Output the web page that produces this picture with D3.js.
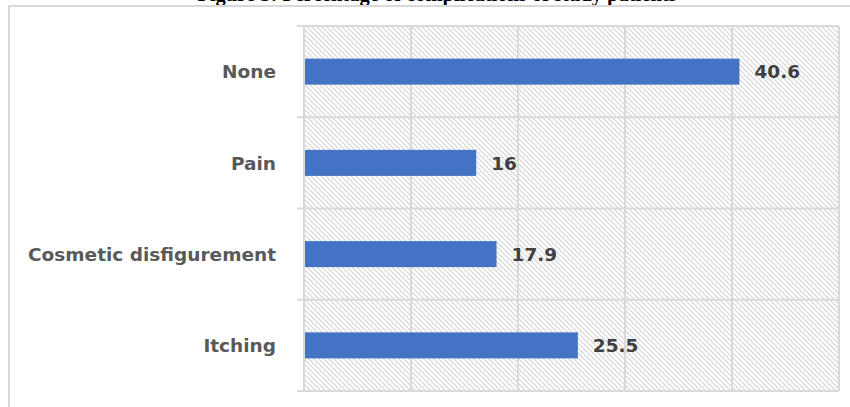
<!DOCTYPE html>
<html>
<head>
<meta charset="utf-8">
<script src="https://cdn.jsdelivr.net/npm/d3@7"></script>
<style>
  body { margin: 0; background: #fff; overflow: hidden; }
  .cat { font-family: "DejaVu Sans", sans-serif; font-weight: bold; font-size: 18.5px; fill: #595959; }
  .val { font-family: "DejaVu Sans", sans-serif; font-weight: bold; font-size: 18.5px; fill: #404040; }
  .title { font-family: "Liberation Serif", "Times New Roman", serif; font-weight: bold; font-size: 20.5px; fill: #000; }
</style>
</head>
<body>
<div id="chart"></div>
<script>
//Data
const categories = ["None", "Pain", "Cosmetic disfigurement", "Itching"];
const values = [40.6, 16, 17.9, 25.5];
const xTicks = [0, 10, 20, 30, 40, 50];
const title = "Figure 3: Percentage of complications of study patients";

//Layout
let width = 850, height = 407;
let plot = {left: 304, right: 839, top: 26, bottom: 391};

let svg = d3.select("#chart").append("svg")
  .attr("width", width)
  .attr("height", height);

//Hatch pattern for the plot background
let defs = svg.append("defs");
let pat = defs.append("pattern")
  .attr("id", "hatch")
  .attr("patternUnits", "userSpaceOnUse")
  .attr("width", 5).attr("height", 5);
pat.append("path")
  .attr("d", "M-1,-1 L6,6 M-1,4 L1,6 M4,-1 L6,1")
  .attr("stroke", "#d2d2d2")
  .attr("stroke-width", 1.1);

//Title (cut off at the top of the picture, as in the source)
svg.append("text")
  .attr("class", "title")
  .attr("x", 437).attr("y", 0.5)
  .attr("text-anchor", "middle")
  .text(title);

//Outer chart border
svg.append("path")
  .attr("d", "M9," + height + " L9,6 L" + width + ",6")
  .attr("fill", "none")
  .attr("stroke", "#d9d9d9")
  .attr("stroke-width", 2);

let x = d3.scaleLinear().domain([0, 50]).range([plot.left, plot.right]);
let y = d3.scaleBand().domain(categories).range([plot.top, plot.bottom])
  .paddingInner(0.715).paddingOuter(0.3575);
let yStep = d3.scaleBand().domain(categories).range([plot.top, plot.bottom]);

svg.append("rect")
  .attr("x", plot.left).attr("y", plot.top)
  .attr("width", plot.right - plot.left)
  .attr("height", plot.bottom - plot.top)
  .attr("fill", "url(#hatch)");

//Vertical gridlines
svg.selectAll(".grid")
  .data(xTicks)
  .enter().append("line")
    .attr("class", "grid")
    .attr("x1", d => x(d)).attr("x2", d => x(d))
    .attr("y1", plot.top).attr("y2", plot.bottom)
    .attr("stroke", "#d9d9d9")
    .attr("stroke-width", 2);

//Category separators (axis ticks between categories)
let seps = categories.map(c => yStep(c)).concat([plot.bottom]);
svg.selectAll(".sep")
  .data(seps)
  .enter().append("line")
    .attr("class", "sep")
    .attr("x1", plot.left - 7).attr("x2", plot.right)
    .attr("y1", d => d).attr("y2", d => d)
    .attr("stroke", "#d9d9d9")
    .attr("stroke-width", 2);

//Bars
svg.selectAll(".bar")
  .data(values)
  .enter().append("rect")
    .attr("class", "bar")
    .attr("x", x(0) + 1)
    .attr("y", (d, i) => y(categories[i]))
    .attr("width", d => x(d) - x(0))
    .attr("height", y.bandwidth())
    .attr("fill", "#4472c4");

//Value labels
svg.selectAll(".val")
  .data(values)
  .enter().append("text")
    .attr("class", "val")
    .attr("x", d => x(d) + 16)
    .attr("y", (d, i) => y(categories[i]) + y.bandwidth() / 2)
    .attr("dy", "0.36em")
    .text(d => d);

//Category labels
svg.selectAll(".cat")
  .data(categories)
  .enter().append("text")
    .attr("class", "cat")
    .attr("x", 276)
    .attr("y", d => y(d) + y.bandwidth() / 2)
    .attr("dy", "0.36em")
    .attr("text-anchor", "end")
    .text(d => d);
</script>
</body>
</html>
